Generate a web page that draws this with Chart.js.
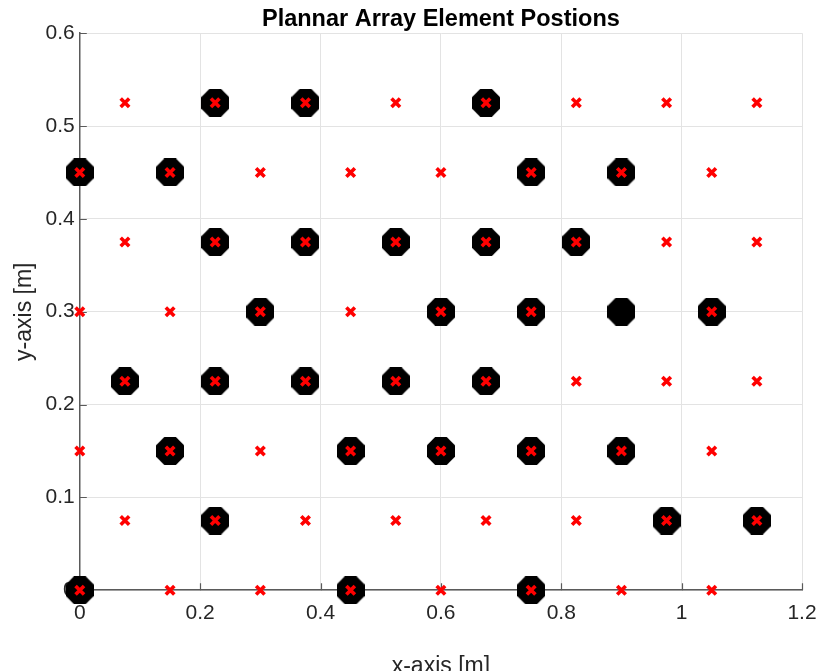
<!DOCTYPE html>
<html>
<head>
<meta charset="utf-8">
<title>Plannar Array Element Postions</title>
<script src="https://cdn.jsdelivr.net/npm/chart.js@4/dist/chart.umd.min.js"></script>
<style>
  html, body { margin: 0; padding: 0; background: #ffffff; overflow: hidden; }
  #wrap { position: relative; width: 819px; height: 680px; }
</style>
</head>
<body>
<div id="wrap"><canvas id="chart"></canvas></div>
<script>
// All element positions of the planar array [m], listed row by row (top row first)
const elementX = [
  0.075, 0.225, 0.375, 0.525, 0.675, 0.825, 0.975, 1.125,
  0, 0.15, 0.3, 0.45, 0.6, 0.75, 0.9, 1.05,
  0.075, 0.225, 0.375, 0.525, 0.675, 0.825, 0.975, 1.125,
  0, 0.15, 0.3, 0.45, 0.6, 0.75, 1.05,
  0.075, 0.225, 0.375, 0.525, 0.675, 0.825, 0.975, 1.125,
  0, 0.15, 0.3, 0.45, 0.6, 0.75, 0.9, 1.05,
  0.075, 0.225, 0.375, 0.525, 0.675, 0.825, 0.975, 1.125,
  0, 0.15, 0.3, 0.45, 0.6, 0.75, 0.9, 1.05
];
const elementY = [
  0.525, 0.525, 0.525, 0.525, 0.525, 0.525, 0.525, 0.525,
  0.45, 0.45, 0.45, 0.45, 0.45, 0.45, 0.45, 0.45,
  0.375, 0.375, 0.375, 0.375, 0.375, 0.375, 0.375, 0.375,
  0.3, 0.3, 0.3, 0.3, 0.3, 0.3, 0.3,
  0.225, 0.225, 0.225, 0.225, 0.225, 0.225, 0.225, 0.225,
  0.15, 0.15, 0.15, 0.15, 0.15, 0.15, 0.15, 0.15,
  0.075, 0.075, 0.075, 0.075, 0.075, 0.075, 0.075, 0.075,
  0, 0, 0, 0, 0, 0, 0, 0
];

// Selected (active) elements [m]
const activeX = [
  0.225, 0.375, 0.675,
  0, 0.15, 0.75, 0.9,
  0.225, 0.375, 0.525, 0.675, 0.825,
  0.3, 0.6, 0.75, 0.9, 1.05,
  0.075, 0.225, 0.375, 0.525, 0.675,
  0.15, 0.45, 0.6, 0.75, 0.9,
  0.225, 0.975, 1.125,
  0, 0.45, 0.75
];
const activeY = [
  0.525, 0.525, 0.525,
  0.45, 0.45, 0.45, 0.45,
  0.375, 0.375, 0.375, 0.375, 0.375,
  0.3, 0.3, 0.3, 0.3, 0.3,
  0.225, 0.225, 0.225, 0.225, 0.225,
  0.15, 0.15, 0.15, 0.15, 0.15,
  0.075, 0.075, 0.075,
  0, 0, 0
];

// Axis ticks
const xTicks = [0, 0.2, 0.4, 0.6, 0.8, 1, 1.2];
const xTickLabels = ['0', '0.2', '0.4', '0.6', '0.8', '1', '1.2'];
const yTicks = [0, 0.1, 0.2, 0.3, 0.4, 0.5, 0.6];
const yTickLabels = ['0', '0.1', '0.2', '0.3', '0.4', '0.5', '0.6'];

const FONT = "'Liberation Sans', Arial, Helvetica, sans-serif";
const AXIS_COLOR = '#5a5a5a';
const TEXT_COLOR = '#262626';

// Filled octagon marker (flat top/bottom) used for active elements
function octagonMarker(size, color) {
  const c = document.createElement('canvas');
  c.width = size;
  c.height = size;
  const g = c.getContext('2d');
  const r = (size / 2) / Math.cos(Math.PI / 8);
  g.beginPath();
  for (let k = 0; k < 8; k++) {
    const a = Math.PI / 8 + k * Math.PI / 4;
    const px = size / 2 + r * Math.cos(a);
    const py = size / 2 + r * Math.sin(a);
    if (k === 0) g.moveTo(px, py); else g.lineTo(px, py);
  }
  g.closePath();
  g.fillStyle = color;
  g.fill();
  return c;
}

const toPoints = (xs, ys) => xs.map((x, i) => ({ x: x, y: ys[i] }));

// Short inward-pointing tick marks on the left and bottom axes
const inwardTicks = {
  id: 'inwardTicks',
  beforeDatasetsDraw(chart) {
    const { ctx, chartArea, scales } = chart;
    const len = 7;
    ctx.save();
    ctx.strokeStyle = AXIS_COLOR;
    ctx.lineWidth = 1.2;
    ctx.beginPath();
    scales.x.ticks.forEach(t => {
      const px = Math.round(scales.x.getPixelForValue(t.value)) + 0.5;
      ctx.moveTo(px, chartArea.bottom);
      ctx.lineTo(px, chartArea.bottom - len);
    });
    scales.y.ticks.forEach(t => {
      const py = Math.round(scales.y.getPixelForValue(t.value)) + 0.5;
      ctx.moveTo(chartArea.left, py);
      ctx.lineTo(chartArea.left + len, py);
    });
    ctx.stroke();
    ctx.restore();
  }
};

new Chart(document.getElementById('chart'), {
  type: 'scatter',
  data: {
    datasets: [
      {
        label: 'Elements',
        data: toPoints(elementX, elementY),
        pointStyle: 'crossRot',
        pointRadius: 6,
        pointHoverRadius: 6,
        pointBorderWidth: 3.6,
        pointHoverBorderWidth: 3.6,
        pointBorderColor: '#ff0000',
        pointBackgroundColor: '#ff0000',
        clip: false,
        order: 0
      },
      {
        label: 'Active elements',
        data: toPoints(activeX, activeY),
        pointStyle: octagonMarker(28, '#000000'),
        pointRadius: 14,
        pointHoverRadius: 14,
        clip: false,
        order: 1
      }
    ]
  },
  options: {
    responsive: true,
    maintainAspectRatio: false,
    animation: false,
    events: [],
    layout: { padding: { left: 0, right: 17, top: 0, bottom: 0 } },
    plugins: {
      legend: { display: false },
      tooltip: { enabled: false },
      title: {
        display: true,
        text: 'Plannar Array Element Postions',
        color: '#000000',
        fullSize: false,
        font: { family: FONT, size: 23.5, weight: 'bold' },
        padding: { top: 5, bottom: 0 }
      }
    },
    scales: {
      x: {
        type: 'linear',
        position: 'bottom',
        min: 0,
        max: 1.2,
        afterBuildTicks: s => { s.ticks = xTicks.map(v => ({ value: v })); },
        grid: {
          color: '#e3e3e3',
          lineWidth: 1,
          drawTicks: true,
          tickLength: 8,
          tickColor: 'rgba(0,0,0,0)'
        },
        border: { display: true, color: AXIS_COLOR, width: 1.5 },
        ticks: {
          padding: 2,
          color: TEXT_COLOR,
          maxRotation: 0,
          autoSkip: false,
          font: { family: FONT, size: 21 },
          callback: (v, i) => xTickLabels[i]
        },
        title: {
          display: true,
          text: 'x-axis [m]',
          color: TEXT_COLOR,
          font: { family: FONT, size: 23 },
          padding: { top: 25, bottom: 0 }
        }
      },
      y: {
        type: 'linear',
        position: 'left',
        min: 0,
        max: 0.6,
        afterBuildTicks: s => { s.ticks = yTicks.map(v => ({ value: v })); },
        grid: { color: '#e3e3e3', lineWidth: 1, drawTicks: false },
        border: { display: true, color: AXIS_COLOR, width: 1.5 },
        ticks: {
          padding: 5,
          color: TEXT_COLOR,
          autoSkip: false,
          font: { family: FONT, size: 21 },
          callback: (v, i) => yTickLabels[i]
        },
        title: {
          display: true,
          text: 'y-axis [m]',
          color: TEXT_COLOR,
          font: { family: FONT, size: 23 },
          padding: { top: 11, bottom: 2 }
        }
      }
    }
  },
  plugins: [inwardTicks]
});
</script>
</body>
</html>
